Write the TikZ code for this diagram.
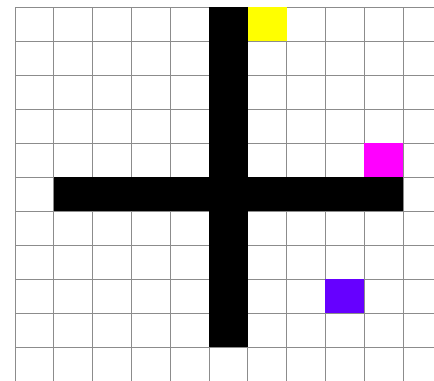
\documentclass[tikz,border=0pt]{standalone}
\definecolor{cellyellow}{RGB}{255,255,0}
\definecolor{cellmagenta}{RGB}{255,0,255}
\definecolor{cellviolet}{RGB}{102,0,255}

\begin{document}
\begin{tikzpicture}[x=0.97cm,y=0.85cm]
  \useasboundingbox[fill=white] (-0.387,0) rectangle (10.799,11.206);
  \clip (-0.387,0) rectangle (10.799,11.206);
  \draw[black!45,line width=0.6pt,xstep=0.97cm,ystep=0.85cm] (0,0) grid (11,11);
  \fill[black] (5,1) rectangle (6,11);
  \fill[black] (1,5) rectangle (10,6);
  \fill[cellyellow] (6,10) rectangle (7,11);
  \fill[cellmagenta] (9,6) rectangle (10,7);
  \fill[cellviolet] (8,2) rectangle (9,3);
\end{tikzpicture}
\end{document}
